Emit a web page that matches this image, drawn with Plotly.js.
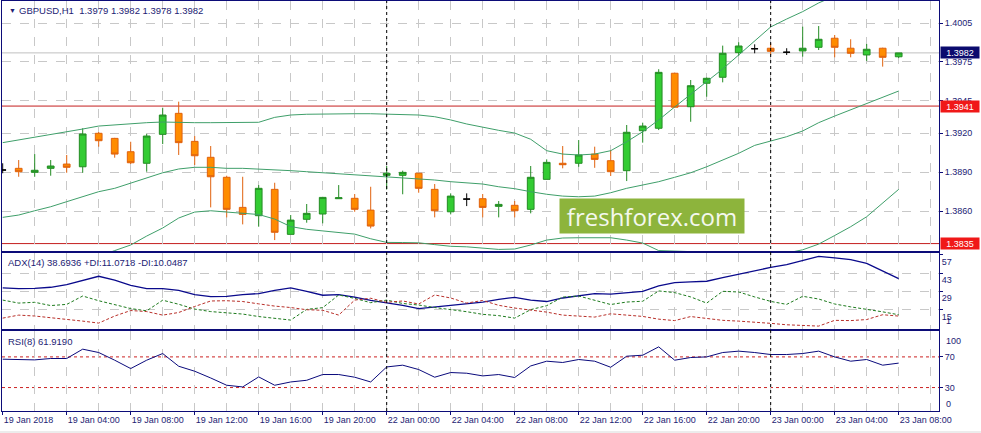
<!DOCTYPE html>
<html><head><meta charset="utf-8">
<script src="https://cdn.plot.ly/plotly-3.0.1.min.js"></script>
<style>html,body{margin:0;padding:0;background:#fff}#chart{width:981px;height:433px}</style>
</head><body><div id="chart"></div>
<script>
const symbol = "GBPUSD,H1";
const tickIndex = [0,4,8,12,16,20,24,28,32,36,40,44,48,52,56];
const tickLabels = ["19 Jan 2018","19 Jan 04:00","19 Jan 08:00","19 Jan 12:00","19 Jan 16:00","19 Jan 20:00",
  "22 Jan 00:00","22 Jan 04:00","22 Jan 08:00","22 Jan 12:00","22 Jan 16:00","22 Jan 20:00",
  "23 Jan 00:00","23 Jan 04:00","23 Jan 08:00"];
const daySeparators = [24, 48];

const open = [1.38917,1.38930,1.38899,1.38930,1.38963,1.38942,1.39200,1.39161,1.39058,1.38969,
1.39192,1.39354,1.39138,1.39015,1.38861,1.38629,1.38565,1.38768,1.38421,1.38537,
1.38578,1.38696,1.38699,1.38608,1.38876,1.38876,1.38892,1.38768,1.38595,1.38693,
1.38696,1.38637,1.38645,1.38614,1.38845,1.38969,1.38969,1.39040,1.38989,1.38912,
1.39220,1.39239,1.39663,1.39405,1.39586,1.39632,1.39822,1.39852,1.39856,1.39825,
1.39835,1.39863,1.39933,1.39856,1.39804,1.39856,1.39790];
const high = [1.38969,1.38994,1.39040,1.38994,1.39033,1.39239,1.39210,1.39165,1.39135,1.39195,
1.39397,1.39444,1.39179,1.39102,1.38873,1.38865,1.38801,1.38819,1.38570,1.38655,
1.38710,1.38801,1.38732,1.38788,1.38948,1.38912,1.38895,1.38809,1.38737,1.38737,
1.38732,1.38678,1.38678,1.38948,1.38999,1.39102,1.39148,1.39097,1.39071,1.39264,
1.39282,1.39694,1.39668,1.39611,1.39630,1.39876,1.39902,1.39886,1.39894,1.39856,
1.40022,1.40027,1.39958,1.39925,1.39889,1.39860,1.39820];
const low = [1.38892,1.38865,1.38865,1.38873,1.38896,1.38896,1.39097,1.39012,1.38963,1.38904,
1.39117,1.39033,1.38956,1.38629,1.38552,1.38498,1.38480,1.38377,1.38421,1.38511,
1.38506,1.38696,1.38595,1.38467,1.38768,1.38730,1.38742,1.38552,1.38575,1.38639,
1.38552,1.38552,1.38552,1.38583,1.38845,1.38930,1.38942,1.38934,1.38871,1.38832,
1.39128,1.39225,1.39400,1.39289,1.39482,1.39593,1.39798,1.39817,1.39804,1.39804,
1.39791,1.39842,1.39786,1.39786,1.39758,1.39714,1.39780];
const close = [1.38917,1.38904,1.38915,1.38948,1.38938,1.39195,1.39143,1.39040,1.38973,1.39179,
1.39341,1.39128,1.39027,1.38865,1.38614,1.38575,1.38776,1.38437,1.38531,1.38583,
1.38706,1.38703,1.38614,1.38485,1.38892,1.38899,1.38776,1.38603,1.38716,1.38693,
1.38629,1.38652,1.38603,1.38861,1.38976,1.38958,1.39033,1.38999,1.38904,1.39208,
1.39256,1.39670,1.39401,1.39567,1.39624,1.39817,1.39873,1.39852,1.39832,1.39825,
1.39856,1.39925,1.39863,1.39817,1.39848,1.39786,1.39820];

const bbUpper = [1.39128,1.39148,1.39171,1.39189,1.39208,1.39233,1.39256,1.39266,1.39277,1.39282,
1.39287,1.39282,1.39282,1.39282,1.39282,1.39283,1.39285,1.39323,1.39341,1.39347,
1.39349,1.39354,1.39351,1.39351,1.39349,1.39347,1.39341,1.39328,1.39303,1.39272,
1.39246,1.39223,1.39202,1.39154,1.39066,1.39040,1.39033,1.39040,1.39066,1.39135,
1.39212,1.39303,1.39403,1.39503,1.39596,1.39696,1.39804,1.39912,1.40020,1.40081,
1.40138,1.40205,1.40259,1.40297,1.40328,1.40351,1.40367];
const bbMiddle = [1.38552,1.38570,1.38603,1.38634,1.38673,1.38711,1.38750,1.38776,1.38815,1.38853,
1.38896,1.38925,1.38938,1.38938,1.38930,1.38930,1.38925,1.38917,1.38912,1.38904,
1.38896,1.38888,1.38884,1.38876,1.38865,1.38861,1.38853,1.38840,1.38827,1.38819,
1.38809,1.38788,1.38773,1.38750,1.38730,1.38716,1.38711,1.38716,1.38742,1.38776,
1.38801,1.38827,1.38861,1.38896,1.38942,1.38994,1.39046,1.39107,1.39141,1.39174,
1.39218,1.39282,1.39333,1.39380,1.39431,1.39478,1.39526];
const bbLower = [1.38000,1.38030,1.38069,1.38115,1.38161,1.38207,1.38254,1.38296,1.38339,1.38408,
1.38470,1.38547,1.38593,1.38603,1.38593,1.38585,1.38574,1.38539,1.38481,1.38460,
1.38447,1.38435,1.38423,1.38387,1.38359,1.38358,1.38356,1.38342,1.38329,1.38325,
1.38315,1.38305,1.38308,1.38339,1.38377,1.38393,1.38395,1.38395,1.38395,1.38377,
1.38354,1.38296,1.38292,1.38288,1.38277,1.38261,1.38254,1.38254,1.38261,1.38277,
1.38302,1.38346,1.38412,1.38480,1.38557,1.38659,1.38768];

const adx = [31.6,31.0,31.3,32.1,34.1,37.5,40.5,37.5,33.6,31.0,
31.0,29.8,26.4,24.9,25.2,26.4,27.3,29.8,31.6,29.0,
26.0,26.4,24.6,22.1,20.3,18.3,15.8,17.0,18.5,19.3,
20.8,22.9,24.4,22.3,21.2,23.9,25.8,27.3,26.8,27.9,
29.0,33.1,35.6,36.2,36.7,39.5,42.1,45.0,47.3,49.4,
52.3,55.7,54.6,53.3,50.4,44.5,38.69];
const plusDI = [22.3,20.0,20.6,18.1,19.0,25.4,21.8,18.9,15.8,14.1,
22.2,19.1,15.4,13.5,12.5,11.6,9.7,8.2,7.0,15.2,
16.5,26.2,23.6,20.3,22.3,19.7,18.5,16.6,15.2,13.4,
11.4,10.4,8.5,15.0,18.0,24.6,25.4,22.3,18.9,20.8,
21.4,29.3,28.0,24.7,20.0,29.0,28.5,24.7,21.3,19.0,
25.2,23.1,19.3,17.1,15.4,13.3,11.07];
const minusDI = [8.5,10.8,10.1,8.9,7.5,6.2,4.7,10.1,14.3,13.5,
10.8,12.8,17.4,21.6,21.8,21.2,19.4,17.7,16.6,14.9,
14.5,10.8,22.3,23.7,20.6,21.6,19.3,26.2,23.9,20.0,
22.0,18.3,16.2,14.7,13.1,10.8,9.8,9.3,11.8,10.6,
9.8,7.7,6.6,9.7,8.4,6.8,6.2,5.5,4.5,3.4,
2.9,2.4,6.8,6.6,7.4,11.1,10.05];
const rsi = [67.0,66.6,66.1,67.9,67.9,80.1,75.7,65.7,54.8,65.7,
74.4,57.8,51.3,42.5,33.0,30.8,43.9,33.0,37.3,39.5,
47.0,47.0,43.5,37.3,56.9,59.2,53.5,43.5,49.6,48.7,
45.2,47.0,43.1,58.2,64.4,62.7,66.6,64.4,56.5,70.9,
72.2,83.1,65.7,69.2,70.0,75.7,77.5,75.7,73.1,73.1,
74.4,77.5,70.0,64.4,66.6,59.2,61.9];

const priceTicks = [1.4005,1.3975,1.3945,1.3920,1.3890,1.3860];
const priceLevels = [1.3941,1.3835];
const adxTicks = [57,43,29,15,1];
const rsiTicks = [100,70,30,0];
const rsiLevels = [70,30];
const adxLabel = "ADX(14) 38.6936 +DI:11.0718 -DI:10.0487";
const rsiLabel = "RSI(8) 61.9190";

const idx = open.map((_, i) => i);
const isDoji = idx.map(i => open[i] === close[i]);
const pick = (arr, want) => idx.filter(i => isDoji[i] === want).map(i => arr[i]);

const navy = '#0c0c78';
const textNavy = '#1c1c74';
const gridC = '#c8c8c8';
const fam = '"Liberation Sans", Arial, sans-serif';
const tickFont = {family: fam, size: 9, color: textNavy};
const bandColor = '#3f9f6a';

const traces = [
  {type:'scatter', mode:'lines', x: idx, y: bbUpper, line:{color:bandColor, width:1}, xaxis:'x', yaxis:'y', hoverinfo:'skip'},
  {type:'scatter', mode:'lines', x: idx, y: bbMiddle, line:{color:bandColor, width:1}, xaxis:'x', yaxis:'y', hoverinfo:'skip'},
  {type:'scatter', mode:'lines', x: idx, y: bbLower, line:{color:bandColor, width:1}, xaxis:'x', yaxis:'y', hoverinfo:'skip'},
  {type:'candlestick', x: pick(idx,false), open: pick(open,false), high: pick(high,false), low: pick(low,false), close: pick(close,false),
   increasing:{line:{color:'#248c24', width:1}, fillcolor:'#33cc33'},
   decreasing:{line:{color:'#e0620e', width:1}, fillcolor:'#ff8c00'},
   whiskerwidth:0, xaxis:'x', yaxis:'y', hoverinfo:'skip'},
  {type:'candlestick', x: pick(idx,true), open: pick(open,true), high: pick(high,true), low: pick(low,true), close: pick(close,true),
   increasing:{line:{color:'#000000', width:1}, fillcolor:'#000000'},
   decreasing:{line:{color:'#000000', width:1}, fillcolor:'#000000'},
   whiskerwidth:0, xaxis:'x', yaxis:'y', hoverinfo:'skip'},
  {type:'scatter', mode:'lines', x: idx, y: adx, line:{color:'#0a0a8c', width:1.3}, xaxis:'x2', yaxis:'y2', hoverinfo:'skip'},
  {type:'scatter', mode:'lines', x: idx, y: plusDI, line:{color:'#1e7b1e', width:1, dash:'3px,2px'}, xaxis:'x2', yaxis:'y2', hoverinfo:'skip'},
  {type:'scatter', mode:'lines', x: idx, y: minusDI, line:{color:'#b8302a', width:1, dash:'3px,2px'}, xaxis:'x2', yaxis:'y2', hoverinfo:'skip'},
  {type:'scatter', mode:'lines', x: idx, y: rsi, line:{color:'#0a0a7c', width:1}, xaxis:'x3', yaxis:'y3', hoverinfo:'skip'}
];

const xBase = (anchor, labels) => ({
  anchor: anchor, range:[-0.044, 58.52], showline:true, mirror:true, linecolor:navy, linewidth:1,
  tickmode:'array', tickvals: tickIndex, ticktext: tickLabels, showticklabels: labels,
  ticks: labels ? 'outside' : '', ticklen: 3, tickcolor: navy,
  ticklabelposition: 'outside right', tickfont: tickFont,
  showgrid:true, gridcolor:gridC, griddash:'dash', gridwidth:1,
  minor:{dtick:2, tick0:0, showgrid:true, gridcolor:gridC, griddash:'dash', ticks:''},
  zeroline:false, fixedrange:true, rangeslider:{visible:false}
});

const x2 = xBase('y2', false); x2.matches = 'x';
const x3 = xBase('y3', true); x3.matches = 'x';

const shapes = [];
priceLevels.forEach(v => shapes.push({type:'line', xref:'paper', x0:0, x1:1, yref:'y', y0:v, y1:v, line:{color:'#c41e1e', width:1}, layer:'below'}));
shapes.push({type:'line', xref:'paper', x0:0, x1:1, yref:'y', y0:close[close.length-1], y1:close[close.length-1], line:{color:'#c0c0c0', width:1}, layer:'below'});
rsiLevels.forEach(v => shapes.push({type:'line', xref:'paper', x0:0, x1:1, yref:'y3', y0:v, y1:v, line:{color:'#cc2222', width:1, dash:'3px,3px'}, layer:'below'}));
daySeparators.forEach(v => shapes.push({type:'line', xref:'x', x0:v, x1:v, yref:'paper', y0:0, y1:1, line:{color:'#000000', width:1, dash:'3px,3px'}}));
// light window-frame strip at the very bottom of the picture
shapes.push({type:'rect', xref:'paper', yref:'paper', x0:-0.01, x1:1.05, y0:-0.0537, y1:-0.0488, fillcolor:'#ececec', line:{width:0}, layer:'below'});

const last = close.length - 1;
const annotations = [
  {xref:'paper', yref:'paper', x:0, y:0.978, xanchor:'left', yanchor:'middle', xshift:5, showarrow:false,
   text:'▼', font:{family:fam, size:7, color:textNavy}},
  {xref:'paper', yref:'paper', x:0, y:0.978, xanchor:'left', yanchor:'middle', xshift:15, showarrow:false,
   text: symbol + '  ' + open[last].toFixed(4) + ' ' + high[last].toFixed(4) + ' ' + low[last].toFixed(4) + ' ' + close[last].toFixed(4),
   font:{family:fam, size:9.5, color:textNavy}},
  {xref:'paper', yref:'paper', x:0, y:0.3634, xanchor:'left', yanchor:'middle', xshift:4, showarrow:false,
   text: adxLabel, font:{family:fam, size:9.5, color:textNavy}},
  {xref:'paper', yref:'paper', x:0, y:0.1707, xanchor:'left', yanchor:'middle', xshift:4, showarrow:false,
   text: rsiLabel, font:{family:fam, size:9.5, color:textNavy}},
  {xref:'paper', yref:'y', x:1, y:close[last], xanchor:'left', yanchor:'middle', xshift:1, showarrow:false,
   text: close[last].toFixed(4), bgcolor:'#0b0b6e', font:{family:fam, size:9, color:'#ffffff'}, width:36, height:9, borderpad:1},
  {xref:'paper', yref:'paper', x:0.6937, y:0.4759, xanchor:'center', yanchor:'middle', showarrow:false,
   text:'freshforex.com', bgcolor:'#8db43c', font:{family:'"Open Sans", sans-serif', size:24, color:'#f4f8ee'}, width:178, height:28, borderpad:3}
];
priceLevels.forEach(v => annotations.push({xref:'paper', yref:'y', x:1, y:v, xanchor:'left', yanchor:'middle', xshift:1, showarrow:false,
   text: v.toFixed(4), bgcolor:'#f01818', font:{family:fam, size:9, color:'#ffffff'}, width:36, height:9, borderpad:1}));
// edge labels of the sub-window scales, kept inside the window
annotations.push({xref:'paper', yref:'y2', x:1, y:adxTicks[adxTicks.length-1], xanchor:'left', yanchor:'bottom', xshift:5, showarrow:false,
   text:String(adxTicks[adxTicks.length-1]), font:tickFont});
annotations.push({xref:'paper', yref:'y3', x:1, y:rsiTicks[0], xanchor:'left', yanchor:'top', xshift:5, showarrow:false,
   text:String(rsiTicks[0]), font:tickFont});
annotations.push({xref:'paper', yref:'y3', x:1, y:rsiTicks[rsiTicks.length-1], xanchor:'left', yanchor:'bottom', xshift:5, showarrow:false,
   text:String(rsiTicks[rsiTicks.length-1]), font:tickFont});

const layout = {
  width:981, height:433, margin:{l:2, r:42, t:1, b:22, pad:0},
  paper_bgcolor:'#ffffff', plot_bgcolor:'#ffffff', showlegend:false,
  boxmode:'overlay', boxgap:0.4,
  xaxis: xBase('y', false), xaxis2: x2, xaxis3: x3,
  yaxis: {anchor:'x', domain:[0.390, 1], range:[1.38292, 1.40220], side:'right',
    tickmode:'array', tickvals: priceTicks, ticktext: priceTicks.map(v => v.toFixed(4)),
    showgrid:true, gridcolor:gridC, griddash:'dash', showline:true, mirror:true, linecolor:navy,
    ticks:'outside', ticklen:3, tickcolor:navy, tickfont:tickFont, zeroline:false, fixedrange:true},
  yaxis2: {anchor:'x2', domain:[0.199, 0.385], range:[-0.14, 58.2], side:'right',
    tickmode:'array', tickvals: adxTicks.slice(0, -1), ticklabelposition:'outside bottom',
    showgrid:false, minor:{tickvals: adxTicks.slice(1, -1), showgrid:true, gridcolor:gridC, griddash:'dash', ticks:''},
    showline:true, mirror:true, linecolor:navy, ticks:'outside', ticklen:3, tickcolor:navy, tickfont:tickFont, zeroline:false, fixedrange:true},
  yaxis3: {anchor:'x3', domain:[0, 0.194], range:[-0.6, 103.2], side:'right',
    tickmode:'array', tickvals: rsiTicks.slice(1, -1),
    showgrid:false, showline:true, mirror:true, linecolor:navy, ticks:'outside', ticklen:3, tickcolor:navy,
    tickfont:tickFont, zeroline:false, fixedrange:true},
  shapes: shapes, annotations: annotations
};

Plotly.newPlot('chart', traces, layout, {staticPlot:true, displayModeBar:false});
</script>
</body></html>
